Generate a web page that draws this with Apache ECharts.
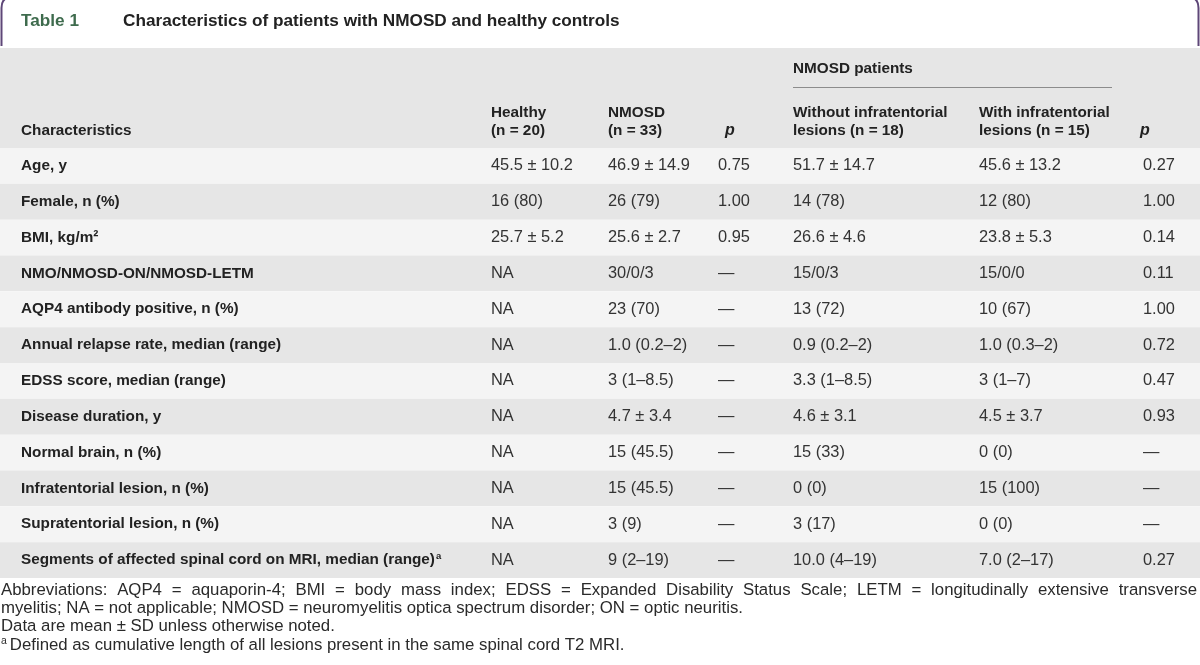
<!DOCTYPE html>
<html><head><meta charset="utf-8">
<script src="https://cdn.jsdelivr.net/npm/echarts@6/dist/echarts.min.js"></script>
<style>html,body{margin:0;padding:0;background:#fff}#c{width:1200px;height:665px}</style>
</head><body><div id="c"></div>
<script>
// ---------- data ----------
const tableNo = 'Table 1';
const title = 'Characteristics of patients with NMOSD and healthy controls';
const groupHead = 'NMOSD patients';
const colHeads = [
  ['Characteristics'],
  ['Healthy', '(n = 20)'],
  ['NMOSD', '(n = 33)'],
  ['p'],
  ['Without infratentorial', 'lesions (n = 18)'],
  ['With infratentorial', 'lesions (n = 15)'],
  ['p']
];
const rowLabels = [
  'Age, y',
  'Female, n (%)',
  'BMI, kg/m²',
  'NMO/NMOSD-ON/NMOSD-LETM',
  'AQP4 antibody positive, n (%)',
  'Annual relapse rate, median (range)',
  'EDSS score, median (range)',
  'Disease duration, y',
  'Normal brain, n (%)',
  'Infratentorial lesion, n (%)',
  'Supratentorial lesion, n (%)',
  'Segments of affected spinal cord on MRI, median (range)'
];
const rowNotes = ['', '', '', '', '', '', '', '', '', '', '', 'a'];
const healthy = ['45.5 ± 10.2', '16 (80)', '25.7 ± 5.2', 'NA', 'NA', 'NA', 'NA', 'NA', 'NA', 'NA', 'NA', 'NA'];
const nmosd = ['46.9 ± 14.9', '26 (79)', '25.6 ± 2.7', '30/0/3', '23 (70)', '1.0 (0.2–2)', '3 (1–8.5)', '4.7 ± 3.4', '15 (45.5)', '15 (45.5)', '3 (9)', '9 (2–19)'];
const pHealthyVsNmosd = ['0.75', '1.00', '0.95', '—', '—', '—', '—', '—', '—', '—', '—', '—'];
const withoutInfra = ['51.7 ± 14.7', '14 (78)', '26.6 ± 4.6', '15/0/3', '13 (72)', '0.9 (0.2–2)', '3.3 (1–8.5)', '4.6 ± 3.1', '15 (33)', '0 (0)', '3 (17)', '10.0 (4–19)'];
const withInfra = ['45.6 ± 13.2', '12 (80)', '23.8 ± 5.3', '15/0/0', '10 (67)', '1.0 (0.3–2)', '3 (1–7)', '4.5 ± 3.7', '0 (0)', '15 (100)', '0 (0)', '7.0 (2–17)'];
const pSubgroups = ['0.27', '1.00', '0.14', '0.11', '1.00', '0.72', '0.47', '0.93', '—', '—', '—', '0.27'];
const footnotes = [
  'Abbreviations: AQP4 = aquaporin-4; BMI = body mass index; EDSS = Expanded Disability Status Scale; LETM = longitudinally extensive transverse',
  'myelitis; NA = not applicable; NMOSD = neuromyelitis optica spectrum disorder; ON = optic neuritis.',
  'Data are mean ± SD unless otherwise noted.',
  'Defined as cumulative length of all lesions present in the same spinal cord T2 MRI.'
];
const footnoteMarks = ['', '', '', 'a'];

// ---------- layout / style ----------
const FONT = "'Liberation Sans', Arial, Helvetica, sans-serif";
const W = 1200;
const colX = [21, 491, 608, 718, 793, 979, 1143];
const headPX = [725, 1140];
const headTop = 48, headBottom = 148, tableBottom = 578;
const TITLE_SIZE = 17.2, BOLD_SIZE = 15.3, REG_SIZE = 16.4, FOOT_SIZE = 16.8;
const TXT = '#222222', DATA = '#333333', FOOT = '#2a2a2a';
const ROW_LIGHT = '#f4f4f4', ROW_DARK = '#e6e6e6', HEAD_BG = '#e6e6e6';
const PURPLE = '#5e4778', GREEN = '#3e6b4d';

function measure(text, size, weight) {
  const cv = document.createElement('canvas').getContext('2d');
  cv.font = (weight || 'normal') + ' ' + size + 'px ' + FONT;
  return cv.measureText(text).width;
}

const cols = [rowLabels, healthy, nmosd, pHealthyVsNmosd, withoutInfra, withInfra, pSubgroups];

const graphic = [];
graphic.push({type: 'rect', shape: {x: 0, y: headTop, width: W, height: headBottom - headTop}, style: {fill: HEAD_BG}, silent: true});
// purple frame bits (rounded top corners)
graphic.push({type: 'bezierCurve', shape: {x1: 12, y1: -3, x2: 1.5, y2: 8, cpx1: 1.5, cpy1: -3}, style: {stroke: PURPLE, lineWidth: 2, fill: null}, silent: true});
graphic.push({type: 'line', shape: {x1: 1.5, y1: 8, x2: 1.5, y2: 46}, style: {stroke: PURPLE, lineWidth: 2}, silent: true});
graphic.push({type: 'bezierCurve', shape: {x1: 1188, y1: -3, x2: 1198.5, y2: 8, cpx1: 1198.5, cpy1: -3}, style: {stroke: PURPLE, lineWidth: 2, fill: null}, silent: true});
graphic.push({type: 'line', shape: {x1: 1198.5, y1: 8, x2: 1198.5, y2: 46}, style: {stroke: PURPLE, lineWidth: 2}, silent: true});
// title
graphic.push({type: 'text', x: 21, y: 21, style: {text: tableNo, fill: GREEN, fontFamily: FONT, fontWeight: 'bold', fontSize: TITLE_SIZE, verticalAlign: 'middle'}});
graphic.push({type: 'text', x: 123, y: 21, style: {text: title, fill: TXT, fontFamily: FONT, fontWeight: 'bold', fontSize: TITLE_SIZE, verticalAlign: 'middle'}});
// group head + rule
graphic.push({type: 'text', x: colX[4], y: 69, style: {text: groupHead, fill: TXT, fontFamily: FONT, fontWeight: 'bold', fontSize: BOLD_SIZE, verticalAlign: 'middle'}});
graphic.push({type: 'line', shape: {x1: colX[4], y1: 87.5, x2: 1112, y2: 87.5}, style: {stroke: '#8c8c8c', lineWidth: 1}});
// column heads
let pCount = 0;
colHeads.forEach((lines, k) => {
  lines.forEach((t, j) => {
    const y = 130.5 - (lines.length - 1 - j) * 17.5;
    const isP = t === 'p';
    const x = isP ? headPX[pCount++] : colX[k];
    graphic.push({type: 'text', x: x, y: y, style: {text: t, fill: TXT, fontFamily: FONT, fontWeight: 'bold', fontStyle: isP ? 'italic' : 'normal', fontSize: BOLD_SIZE + (isP ? 0.7 : 0), verticalAlign: 'middle'}});
  });
});
// footnotes (first line justified to the full width)
footnotes.forEach((t, j) => {
  const mark = footnoteMarks[j];
  let body;
  const rich = {
    n: {fontFamily: FONT, fontSize: FOOT_SIZE, fill: FOOT, lineHeight: 18},
    s: {fontFamily: FONT, fontSize: FOOT_SIZE * 0.62, fill: FOOT, verticalAlign: 'top', lineHeight: 18, padding: [0, 3, 0, 0]}
  };
  if (j === 0) {
    const words = t.split(' ');
    const total = measure(t, FOOT_SIZE);
    const sp = measure(' ', FOOT_SIZE) + Math.max(0, (1197 - 1 - total) / (words.length - 1));
    rich.sp = {fontFamily: FONT, fontSize: FOOT_SIZE, width: sp, lineHeight: 18};
    body = words.map(w => '{n|' + w + '}').join('{sp| }');
  } else {
    body = '{n|' + t + '}';
  }
  graphic.push({type: 'text', x: 1, y: 590 + j * 18.4, style: {
    text: (mark ? '{s|' + mark + '}' : '') + body,
    fill: FOOT, fontFamily: FONT, fontSize: FOOT_SIZE, verticalAlign: 'middle', rich: rich
  }});
});

const chart = echarts.init(document.getElementById('c'), null, {renderer: 'canvas'});
chart.setOption({
  animation: false,
  backgroundColor: '#ffffff',
  grid: {left: 0, right: 0, top: headBottom, height: tableBottom - headBottom},
  xAxis: {type: 'value', min: 0, max: W, show: false},
  yAxis: {type: 'category', data: rowLabels, inverse: true, show: false},
  graphic: graphic,
  series: [{
    type: 'custom',
    clip: false,
    encode: {x: 0, y: 1},
    data: rowLabels.map((_, i) => [0, i]),
    renderItem: function (params, api) {
      const i = api.value(1);
      const c = api.coord([0, i]);
      const band = api.size([0, 1])[1];
      const children = [{type: 'rect', shape: {x: c[0], y: c[1] - band / 2, width: W, height: band}, style: {fill: i % 2 ? ROW_DARK : ROW_LIGHT}}];
      cols.forEach((col, k) => {
        const p = api.coord([colX[k], i]);
        const bold = k === 0;
        const note = bold ? rowNotes[i] : '';
        const size = bold ? BOLD_SIZE : REG_SIZE;
        children.push({type: 'text', x: p[0], y: p[1], style: {
          text: '{m|' + col[i] + '}' + (note ? '{s|' + note + '}' : ''),
          fill: bold ? TXT : DATA, fontFamily: FONT, fontSize: size, fontWeight: bold ? 'bold' : 'normal', verticalAlign: 'middle',
          rich: {
            m: {fontFamily: FONT, fontSize: size, fontWeight: bold ? 'bold' : 'normal', fill: bold ? TXT : DATA, lineHeight: 18},
            s: {fontFamily: FONT, fontSize: 9.5, fontWeight: 'bold', fill: TXT, verticalAlign: 'top', lineHeight: 18, padding: [0, 0, 0, 1]}
          }
        }});
      });
      return {type: 'group', children: children};
    }
  }]
});
</script>
</body></html>
